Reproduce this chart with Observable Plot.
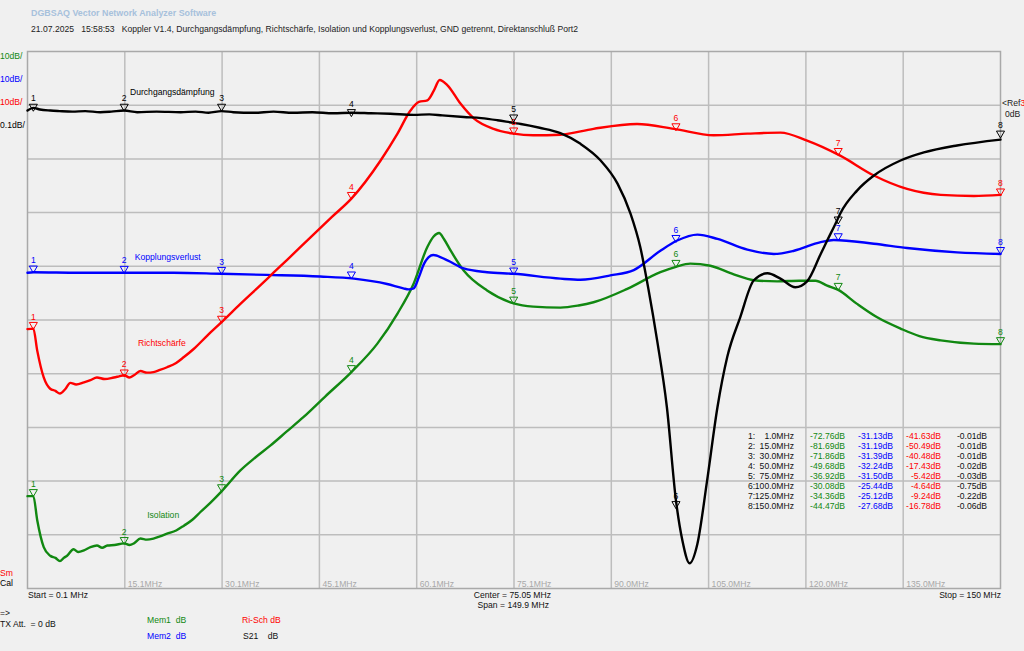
<!DOCTYPE html>
<html>
<head>
<meta charset="utf-8">
<script src="https://cdn.jsdelivr.net/npm/d3@7"></script>
<script src="https://cdn.jsdelivr.net/npm/@observablehq/plot@0.6"></script>
<style>
  html, body { margin:0; padding:0; background:#f0f0f0; }
  #wrap { position:relative; width:1024px; height:651px; overflow:hidden; background:#f0f0f0;
          font-family:"Liberation Sans",Arial,sans-serif; font-size:8.6px; color:#111; }
  .lbl { position:absolute; white-space:pre; line-height:12px; }
  #chart { position:absolute; left:0; top:40px; }
</style>
</head>
<body>
<div id="wrap"><div id="chart"></div></div>
<script>
// ---------- data (MHz, dB) ----------
const markerFreqs = [1, 15, 30, 50, 75, 100, 125, 150];
const isoMarkers  = [-72.76, -81.69, -71.86, -49.68, -36.92, -30.08, -34.36, -44.47];
const koppMarkers = [-31.13, -31.19, -31.39, -32.24, -31.50, -25.44, -25.12, -27.68];
const richMarkers = [-41.63, -50.49, -40.48, -17.43, -5.42, -4.64, -9.24, -16.78];
const durchMarkers = [-0.01, -0.01, -0.01, -0.02, -0.03, -0.75, -0.22, -0.06];

const xGridMHz = [15.09, 30.08, 45.07, 60.06, 75.05, 90.04, 105.03, 120.02, 135.01];
const xTickLabels = ["15.1MHz","30.1MHz","45.1MHz","60.1MHz","75.1MHz","90.0MHz","105.0MHz","120.0MHz","135.0MHz"];
const yGridDb = [0, -10, -20, -30, -40, -50, -60, -70, -80];

// Isolation (green, 10 dB/div)
const isolation = [
  [0.1,-72.8],[1.0,-72.8],[1.6,-77.3],[2.6,-82.3],[3.6,-83.9],[4.4,-84.3],[5.1,-84.9],[5.7,-84.3],[6.2,-83.9],
  [7.2,-82.7],[7.9,-83.2],[8.8,-82.9],[9.8,-82.3],[10.8,-82.0],[11.6,-82.4],[12.4,-82.0],[13.5,-81.9],
  [15.0,-81.6],[15.8,-81.9],[16.5,-81.6],[17.5,-80.7],[18.5,-80.9],[19.5,-80.7],[20.5,-80.3],[21.6,-79.8],
  [23.0,-79.2],[24.2,-78.3],[25.5,-77.2],[26.7,-75.8],[28.3,-74.0],[30.0,-71.9],[32.9,-68.0],[35.2,-65.6],
  [37.5,-63.4],[40.0,-60.8],[42.6,-58.1],[46.0,-54.2],[50.0,-49.7],[54.0,-44.4],[57.1,-38.8],[59.6,-33.2],
  [61.7,-26.4],[62.7,-24.4],[63.5,-23.8],[64.3,-25.0],[65.3,-27.1],[67.3,-30.8],[70.9,-34.5],[75.0,-36.9],
  [78.0,-37.5],[82.2,-37.7],[85.0,-37.3],[87.3,-36.7],[92.5,-34.2],[97.6,-31.1],[100.0,-30.1],[102.2,-29.5],
  [105.3,-29.9],[108.9,-31.5],[112.0,-32.6],[115.6,-32.8],[119.0,-32.7],[121.5,-32.7],[123.3,-33.6],
  [125.0,-34.4],[127.9,-37.0],[131.0,-39.5],[134.6,-41.6],[137.5,-43.0],[140.8,-43.8],[145.9,-44.4],[150.0,-44.5]
];

// Kopplungsverlust (blue, 10 dB/div)
const kopplung = [
  [0.1,-31.2],[1.0,-31.1],[8.0,-31.2],[15.0,-31.2],[22.6,-31.2],[30.0,-31.4],[37.0,-31.6],[45.2,-31.9],
  [50.4,-32.3],[55.5,-33.3],[58.0,-34.1],[58.8,-34.3],[59.6,-34.1],[60.4,-32.0],[61.2,-29.5],[62.6,-27.9],
  [64.8,-28.9],[67.3,-30.4],[70.9,-31.1],[75.0,-31.4],[82.2,-32.3],[85.3,-32.5],[89.9,-31.7],[93.5,-30.7],
  [97.6,-27.1],[100.2,-25.2],[103.3,-24.1],[106.4,-24.9],[111.0,-26.9],[115.1,-27.7],[118.2,-27.1],
  [122.3,-25.5],[124.3,-25.1],[130.5,-25.8],[135.6,-26.6],[143.3,-27.4],[150.0,-27.7]
];

// Richtschärfe (red, 10 dB/div)
const richt = [
  [0.1,-41.7],[1.0,-41.6],[1.6,-45.7],[2.6,-50.7],[3.6,-52.8],[4.4,-53.2],[5.1,-53.7],[5.9,-52.9],[6.7,-51.7],
  [7.6,-52.0],[8.8,-51.6],[9.8,-51.2],[10.8,-50.7],[12.0,-51.0],[13.4,-50.7],[14.2,-50.5],[15.0,-50.3],
  [15.8,-50.7],[16.5,-50.3],[17.5,-49.5],[18.5,-49.8],[19.5,-49.7],[20.5,-49.3],[21.6,-48.8],[23.0,-48.0],
  [24.2,-46.9],[25.7,-45.4],[27.8,-42.9],[30.0,-40.4],[32.9,-37.0],[36.0,-33.5],[38.0,-31.2],[40.1,-28.8],
  [43.7,-24.6],[47.0,-20.8],[50.0,-17.4],[54.5,-10.3],[57.1,-5.3],[59.1,-1.0],[60.4,0.6],[61.7,0.9],
  [62.7,2.7],[63.6,4.7],[64.8,3.7],[66.8,0.3],[68.9,-2.5],[71.9,-4.4],[75.0,-5.3],[78.0,-5.6],[82.2,-5.5],
  [87.3,-4.4],[94.0,-3.5],[99.7,-4.4],[105.8,-5.6],[111.0,-5.3],[116.1,-5.1],[120.2,-6.6],[125.3,-9.4],
  [130.5,-13.1],[135.6,-15.6],[140.8,-16.7],[145.9,-16.9],[150.0,-16.7]
];

// Durchgangsdämpfung (black, 0.1 dB/div)
const durchgang = [
  [0.1,-0.010],[1.0,-0.005],[2.0,-0.008],[3.6,-0.010],[5.0,-0.011],[7.0,-0.012],[9.0,-0.011],[11.3,-0.013],
  [13.0,-0.012],[15.0,-0.010],[17.0,-0.013],[20.0,-0.012],[23.7,-0.013],[26.0,-0.012],[28.0,-0.014],
  [30.0,-0.011],[31.8,-0.013],[35.0,-0.014],[38.0,-0.012],[41.0,-0.014],[44.0,-0.013],[47.2,-0.015],
  [50.0,-0.014],[53.0,-0.015],[56.0,-0.016],[59.6,-0.018],[62.0,-0.017],[64.0,-0.019],[67.3,-0.022],
  [70.0,-0.024],[72.5,-0.028],[75.0,-0.033],[76.1,-0.035],[79.0,-0.042],[82.2,-0.052],[85.3,-0.072],
  [88.4,-0.103],[91.0,-0.146],[93.0,-0.202],[94.5,-0.264],[95.8,-0.345],[97.1,-0.438],[98.6,-0.562],
  [100.0,-0.736],[101.0,-0.811],[102.1,-0.853],[103.3,-0.817],[104.8,-0.699],[106.4,-0.562],[107.9,-0.469],
  [109.9,-0.395],[112.0,-0.326],[114.1,-0.313],[116.1,-0.323],[118.4,-0.339],[120.2,-0.328],[122.3,-0.277],
  [123.3,-0.252],[124.8,-0.215],[125.3,-0.202],[127.9,-0.159],[130.5,-0.131],[134.6,-0.103],[138.2,-0.088],
  [143.3,-0.075],[150.0,-0.064]
];

// marker table rows
const tableFreqLabels = ["1.0MHz","15.0MHz","30.0MHz","50.0MHz","75.0MHz","100.0MHz","125.0MHz","150.0MHz"];

// trace names (MHz, dB on the 10 dB/div grid)
const traceNames = ["Durchgangsdämpfung", "Kopplungsverlust", "Richtschärfe", "Isolation"];
const traceNameF = [22.4, 21.7, 20.8, 21.0];
const traceNameDb = [2.4, -28.3, -44.4, -76.4];

// ---------- styling ----------
const GREEN = "#118811", BLUE = "#0000ff", RED = "#ff0000", BLACK = "#000000";
const BLACK_SCALE = 100; // 0.1 dB/div drawn on the 10 dB/div grid
const FONT = "'Liberation Sans',Arial,sans-serif";
const nameColors = [BLACK, BLUE, RED, GREEN];

const traces = [
  {data: isolation, m: isoMarkers, color: GREEN, k: 1},
  {data: kopplung, m: koppMarkers, color: BLUE, k: 1},
  {data: richt, m: richMarkers, color: RED, k: 1},
  {data: durchgang, m: durchMarkers, color: BLACK, k: BLACK_SCALE}
];

const marks = [
  Plot.ruleX(xGridMHz, {x: d => d, stroke: "#bdbdbd", strokeWidth: 1.5}),
  Plot.ruleY(yGridDb, {y: d => d, stroke: "#bdbdbd", strokeWidth: 1.5}),
  Plot.frame({stroke: "#a9a9a9", strokeWidth: 1.5}),
  Plot.text(xGridMHz, {x: d => d, text: (d, i) => xTickLabels[i], frameAnchor: "bottom", textAnchor: "start",
    lineAnchor: "bottom", dx: 3, dy: -2, fill: "#a8a8a8", fontSize: 8.6})
];

for (const t of traces) {
  marks.push(Plot.line(t.data, {x: d => d[0], y: d => d[1] * t.k, stroke: t.color, strokeWidth: 2.4, curve: "monotone-x"}));
}
for (const t of traces) {
  marks.push(Plot.dot(markerFreqs, {x: d => d, y: (d, i) => t.m[i] * t.k, symbol: "triangle", rotate: 180, r: 3,
    stroke: t.color, strokeWidth: 1, fill: "none", dy: -4}));
  marks.push(Plot.text(markerFreqs, {x: d => d, y: (d, i) => t.m[i] * t.k, text: (d, i) => String(i + 1),
    fill: t.color, fontSize: 8.6, dy: -12}));
}

marks.push(Plot.text(traceNames, {x: (d, i) => traceNameF[i], y: (d, i) => traceNameDb[i], text: d => d,
  fill: (d, i) => nameColors[i], fontSize: 8.6}));

const chart = Plot.plot({
  width: 1024, height: 560,
  marginLeft: 27, marginRight: 24, marginTop: 11, marginBottom: 12,
  style: {background: "transparent", fontFamily: FONT, fontSize: "8.6px", overflow: "visible"},
  x: {domain: [0.1, 150], axis: null},
  y: {domain: [-90, 10], axis: null},
  marks
});
document.getElementById("chart").appendChild(chart);

// ---------- surrounding texts ----------
const wrap = document.getElementById("wrap");
function label(text, x, y, color, extra = {}) {
  const d = document.createElement("div");
  d.className = "lbl";
  d.textContent = text;
  if (extra.right) d.style.right = (1024 - x) + "px"; else d.style.left = x + "px";
  d.style.top = (y - 6) + "px";
  d.style.color = color || "#111";
  if (extra.bold) d.style.fontWeight = "bold";
  if (extra.size) d.style.fontSize = extra.size + "px";
  wrap.appendChild(d);
  return d;
}
label("DGBSAQ Vector Network Analyzer Software", 31, 13, "#a7c1dc", {bold: true, size: 8.9});
label("21.07.2025   15:58:53   Koppler V1.4, Durchgangsdämpfung, Richtschärfe, Isolation und Kopplungsverlust, GND getrennt, Direktanschluß Port2", 31, 29, "#222");

label("10dB/", 0, 56, GREEN);
label("10dB/", 0, 79, BLUE);
label("10dB/", 0, 102, RED);
label("0.1dB/", 0, 125, BLACK);
label("Sm", 0, 573, RED);
label("Cal", 0, 583, BLACK);
const ref = label("<Ref", 1002, 103, "#222");
const refMark = document.createElement("span");
refMark.textContent = "3";
refMark.style.color = RED;
ref.appendChild(refMark);
label("0dB", 1005, 114, "#222");

label("Start = 0.1 MHz", 28, 595, "#111");
label("Center = 75.05 MHz", 551, 595, "#111", {right: true});
label("Span = 149.9 MHz", 549, 605, "#111", {right: true});
label("Stop = 150 MHz", 1001, 595, "#111", {right: true});
label("=>", 0, 613, "#111");
label("TX Att.  = 0 dB", 0, 624, "#111");
label("Mem1  dB", 147, 620, GREEN);
label("Mem2  dB", 147, 636, BLUE);
label("Ri-Sch dB", 242, 620, RED);
label("S21    dB", 243, 636, "#111");

// marker table
const tableCols = [
  {vals: isoMarkers, color: GREEN, right: 845},
  {vals: koppMarkers, color: BLUE, right: 893},
  {vals: richMarkers, color: RED, right: 941},
  {vals: durchMarkers, color: "#111", right: 987}
];
for (let i = 0; i < markerFreqs.length; i++) {
  const y = 436 + i * 10;
  label((i + 1) + ":", 748, y, "#111");
  label(tableFreqLabels[i], 794, y, "#111", {right: true});
  for (const c of tableCols) label(c.vals[i].toFixed(2) + "dB", c.right, y, c.color, {right: true});
}
</script>
</body>
</html>
